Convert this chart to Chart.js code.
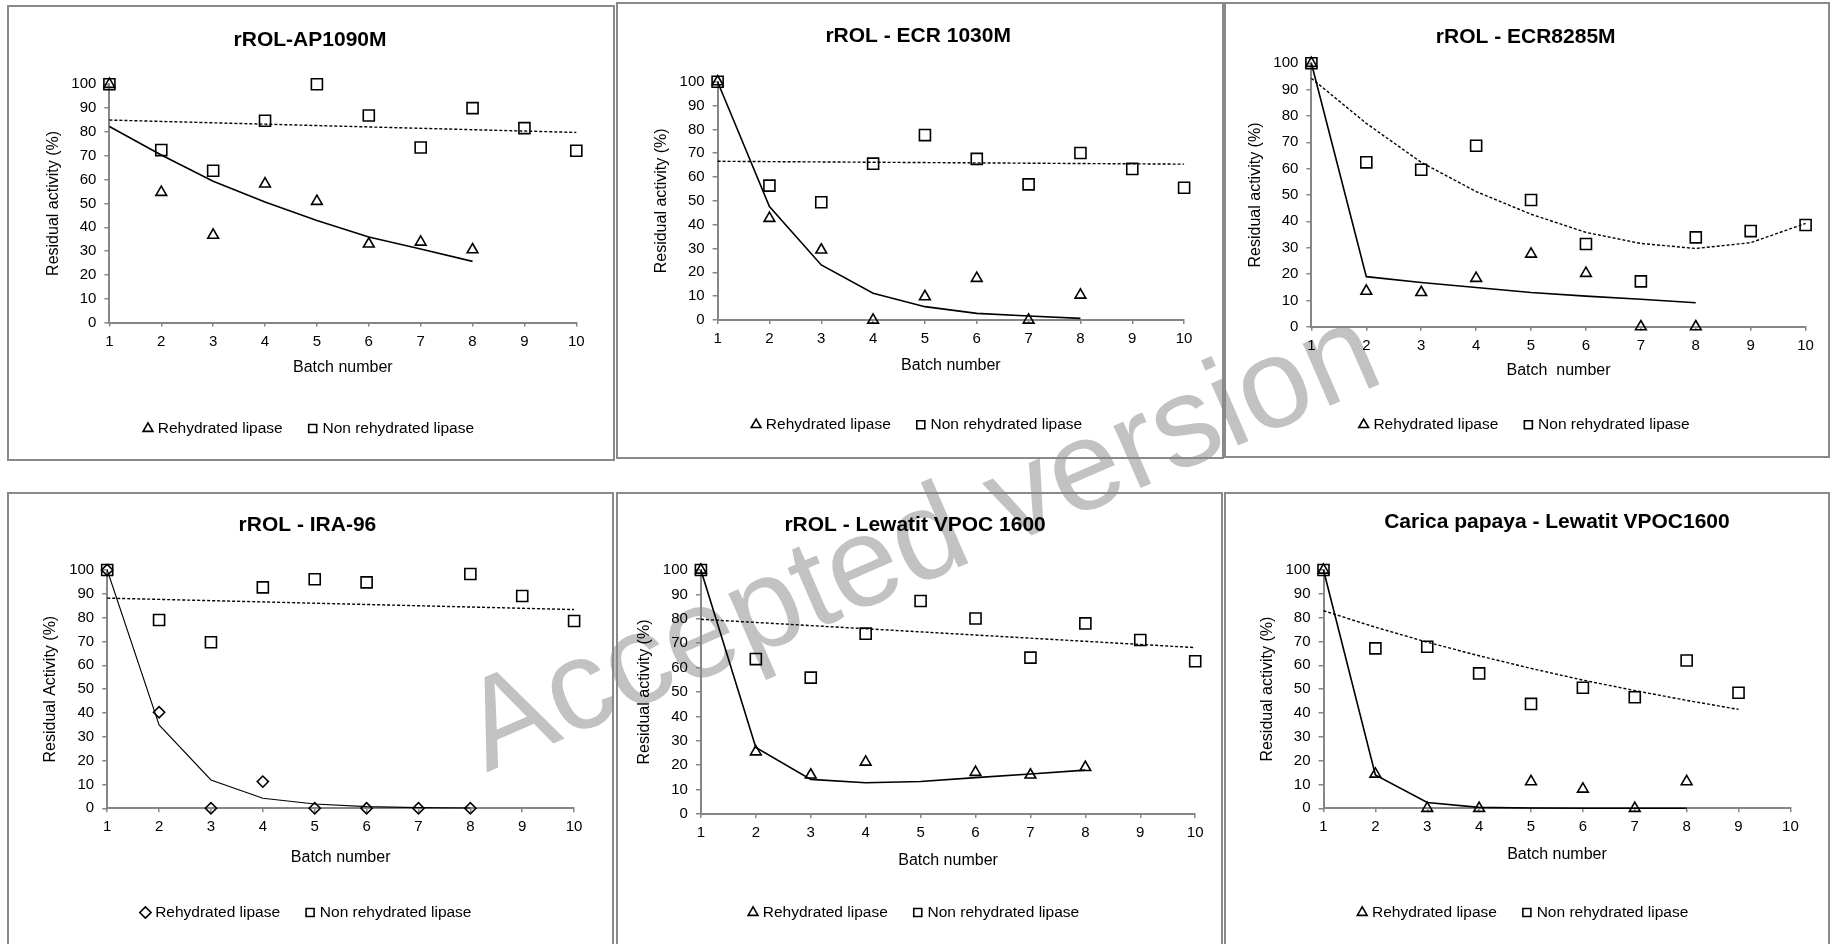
<!DOCTYPE html>
<html>
<head>
<meta charset="utf-8">
<script src="https://cdn.jsdelivr.net/npm/chart.js@4.4.1/dist/chart.umd.min.js"></script>
<style>
  html, body { margin: 0; padding: 0; background: #fff; width: 1830px; height: 944px; overflow: hidden; position: relative; }
  .frame { position: absolute; border: 2px solid #898989; box-sizing: border-box; z-index: 2; }
  canvas { position: absolute; z-index: 3; }
  #wm { position: absolute; left: 919px; top: 536px; transform: translate(-50%, -50%) rotate(-23.5deg);
        font-family: 'Liberation Sans', Arial, sans-serif; font-size: 128px; color: #c2c2c2; white-space: nowrap; z-index: 1; line-height: 1.15; }
</style>
</head>
<body>
<div id="wm">Accepted version</div>
<script>
// ---------------- Axis ticks / categories ----------------
const batchNumbers = [1, 2, 3, 4, 5, 6, 7, 8, 9, 10];
const residualTicks = [0, 10, 20, 30, 40, 50, 60, 70, 80, 90, 100];
const linearTrendBatches = [1, 10];

// ---------------- rROL-AP1090M ----------------
const ap1090mRehydrated = [100, 54.7, 36.7, 58.2, 50.9, 33.0, 33.8, 30.6];
const ap1090mNonRehydrated = [100, 72.4, 63.7, 84.7, 100, 86.9, 73.5, 90.0, 81.6, 72.1];
const ap1090mRehydratedTrend = [82.3, 70.3, 59.3, 50.6, 42.8, 35.9, 30.9, 25.7];
const ap1090mNonRehydratedTrend = [85.0, 79.8];

// ---------------- rROL - ECR 1030M ----------------
const ecr1030mRehydrated = [100, 42.7, 29.4, 0, 9.8, 17.5, 0, 10.5];
const ecr1030mNonRehydrated = [100, 56.4, 49.4, 65.6, 77.6, 67.6, 56.9, 70.1, 63.4, 55.5];
const ecr1030mRehydratedTrend = [100, 47.6, 23.1, 11.2, 5.6, 2.8, 1.7, 0.7];
const ecr1030mNonRehydratedTrend = [66.6, 65.4];

// ---------------- rROL - ECR8285M ----------------
const ecr8285mRehydrated = [100, 13.5, 13.0, 18.4, 27.6, 20.3, 0, 0];
const ecr8285mNonRehydrated = [100, 62.4, 59.6, 68.7, 48.1, 31.4, 17.2, 33.9, 36.3, 38.6];
const ecr8285mRehydratedTrend = [100, 19.0, 16.8, 14.9, 13.0, 11.6, 10.4, 9.1];
const ecr8285mNonRehydratedTrend = [94.3, 77.2, 62.4, 51.3, 42.7, 35.8, 31.6, 29.7, 31.9, 39.2];

// ---------------- rROL - IRA-96 ----------------
const ira96Rehydrated = [100, 40.3, 0, 11.2, 0, 0, 0, 0];
const ira96NonRehydrated = [100, 79.0, 69.7, 92.7, 96.1, 94.8, null, 98.3, 89.1, 78.6];
const ira96RehydratedTrend = [100, 35.0, 11.9, 4.2, 1.8, 0.7, 0.3, 0.1];
const ira96NonRehydratedTrend = [88.2, 83.4];

// ---------------- rROL - Lewatit VPOC 1600 ----------------
const vpocRehydrated = [100, 25.5, 16.0, 21.3, null, 17.1, 16.0, 19.1];
const vpocNonRehydrated = [100, 63.5, 55.9, 73.9, 87.3, 80.1, 64.1, 78.1, 71.3, 62.6];
const vpocRehydratedTrend = [100, 27.3, 14.2, 12.8, 13.3, 14.9, 16.4, 18.0];
const vpocNonRehydratedTrend = [79.8, 68.2];

// ---------------- Carica papaya - Lewatit VPOC1600 ----------------
const papayaRehydrated = [100, 14.4, 0, 0, 11.2, 8.1, 0, 11.2];
const papayaNonRehydrated = [100, 67.1, 67.8, 56.6, 43.8, 50.6, 46.6, 62.0, 48.5];
const papayaRehydratedTrend = [100, 14.0, 2.4, 0.4, 0.1, 0, 0, 0];
const papayaNonRehydratedTrend = [82.9, 76.0, 69.7, 64.0, 58.7, 53.8, 49.4, 45.3, 41.5];

// ---------------- Text ----------------
const panelTitles = ['rROL-AP1090M', 'rROL - ECR 1030M', 'rROL - ECR8285M', 'rROL - IRA-96', 'rROL - Lewatit VPOC 1600', 'Carica papaya - Lewatit VPOC1600'];
const yAxisTitles = ['Residual activity (%)', 'Residual activity (%)', 'Residual activity (%)', 'Residual Activity (%)', 'Residual activity (%)', 'Residual activity (%)'];
const xAxisTitles = ['Batch number', 'Batch number', 'Batch  number', 'Batch number', 'Batch number', 'Batch number'];
const seriesNames = ['Rehydrated lipase', 'Non rehydrated lipase'];

// ---------------- Layout (page pixels) ----------------
const layouts = [
  { frame: [7, 5, 615, 461],    canvas: [9, 7, 613, 459],       plot: [109.4, 84.3, 576.3, 322.6],   titleY: 40,    yTitleX: 53.4,   xTitleY: 368,   legendY: 428.5, titleFull: true },
  { frame: [616, 2, 1224, 459], canvas: [618, 4, 1222, 457],    plot: [717.6, 81.7, 1184.1, 320],    titleY: 36.7,  yTitleX: 661.8,  xTitleY: 366,   legendY: 424.7, titleFull: true },
  { frame: [1224, 2, 1830, 458],canvas: [1226, 4, 1828, 456],   plot: [1311.4, 63.3, 1805.6, 326.7], titleY: 37.3,  yTitleX: 1255.4, xTitleY: 370.8, legendY: 424.7, titleFull: true },
  { frame: [7, 492, 614, 950],  canvas: [9, 494, 612, 944],     plot: [107.2, 570, 574.1, 808.3],    titleY: 525.5, yTitleX: 50.4,   xTitleY: 857.5, legendY: 912.5, titleFull: true },
  { frame: [616, 492, 1223, 950], canvas: [618, 494, 1221, 944], plot: [700.9, 570, 1195.2, 814],    titleY: 525.5, yTitleX: 644.6,  xTitleY: 860.3, legendY: 912.5, titleFull: true },
  { frame: [1224, 492, 1830, 950], canvas: [1226, 494, 1828, 944], plot: [1323.5, 570, 1790.4, 808.3], titleY: 522.5, yTitleX: 1267.7, xTitleY: 854.2, legendY: 912.5, titleFull: false }
];

const panels = [
  { reh: ap1090mRehydrated, non: ap1090mNonRehydrated, rehTrend: ap1090mRehydratedTrend, nonTrend: ap1090mNonRehydratedTrend, nonTrendX: linearTrendBatches, rehStyle: 'triangle', rehTrendWidth: 1.6 },
  { reh: ecr1030mRehydrated, non: ecr1030mNonRehydrated, rehTrend: ecr1030mRehydratedTrend, nonTrend: ecr1030mNonRehydratedTrend, nonTrendX: linearTrendBatches, rehStyle: 'triangle', rehTrendWidth: 1.6 },
  { reh: ecr8285mRehydrated, non: ecr8285mNonRehydrated, rehTrend: ecr8285mRehydratedTrend, nonTrend: ecr8285mNonRehydratedTrend, nonTrendX: batchNumbers, rehStyle: 'triangle', rehTrendWidth: 1.6 },
  { reh: ira96Rehydrated, non: ira96NonRehydrated, rehTrend: ira96RehydratedTrend, nonTrend: ira96NonRehydratedTrend, nonTrendX: linearTrendBatches, rehStyle: 'rectRot', rehTrendWidth: 1.1 },
  { reh: vpocRehydrated, non: vpocNonRehydrated, rehTrend: vpocRehydratedTrend, nonTrend: vpocNonRehydratedTrend, nonTrendX: linearTrendBatches, rehStyle: 'triangle', rehTrendWidth: 1.6 },
  { reh: papayaRehydrated, non: papayaNonRehydrated, rehTrend: papayaRehydratedTrend, nonTrend: papayaNonRehydratedTrend, nonTrendX: batchNumbers, rehStyle: 'triangle', rehTrendWidth: 1.6 }
];

// ---------------- Styles ----------------
Chart.defaults.font.family = "'Liberation Sans', Arial, Helvetica, sans-serif";
Chart.defaults.color = '#000';
const AXIS_COLOR = '#868686';
const FS = 16, LH = FS * 1.2, LEG_FS = 15.5, TFS = 21, TLH = TFS * 1.2, TICK_FS = 15;
const LEGEND_PAD = 28;
const MARKER_RADIUS = { triangle: 6.2, rect: 7.8, rectRot: 5.6 };

function toPoints(xs, ys) { return ys.map((y, i) => ({ x: xs[i], y: y })); }

function makeChart(idx) {
  const p = panels[idx], L = layouts[idx];
  const [fL, fT, fR, fB] = L.frame;
  const fr = document.createElement('div');
  fr.className = 'frame';
  Object.assign(fr.style, { left: fL + 'px', top: fT + 'px', width: (fR - fL) + 'px', height: (fB - fT) + 'px' });
  document.body.appendChild(fr);

  const [cL, cT, cR, cB] = L.canvas;
  const [pL, pT, pR, pB] = L.plot;
  const cv = document.createElement('canvas');
  cv.width = cR - cL; cv.height = cB - cT;
  cv.style.left = cL + 'px'; cv.style.top = cT + 'px';
  document.body.appendChild(cv);

  const yAxisLeft = L.yTitleX - LH / 2;
  const yAxisW = pL - yAxisLeft;
  const padLeft = yAxisLeft - cL;
  const padRight = cR - pR;
  const tPadTop = L.titleY - cT - TLH / 2;
  const tPadBottom = pT - cT - tPadTop - TLH;
  const legH = LEG_FS + LEGEND_PAD + 10;
  const padBottom = cB - L.legendY - 10 - LEG_FS / 2;
  const xAxisH = cB - padBottom - legH - pB;
  const xtPadBottom = pB + xAxisH - LH / 2 - L.xTitleY;

  const markerCommon = { showLine: false, pointBorderColor: '#000', pointBackgroundColor: 'rgba(0,0,0,0)',
    borderColor: '#000', backgroundColor: 'rgba(0,0,0,0)', pointBorderWidth: 1.6, borderWidth: 1, clip: false, pointHoverRadius: 0 };

  const datasets = [
    Object.assign({ label: seriesNames[0], data: toPoints(batchNumbers, p.reh), pointStyle: p.rehStyle, pointRadius: MARKER_RADIUS[p.rehStyle] }, markerCommon),
    Object.assign({ label: seriesNames[1], data: toPoints(batchNumbers, p.non), pointStyle: 'rect', pointRadius: MARKER_RADIUS.rect }, markerCommon),
    { label: 'trend-reh', data: toPoints(batchNumbers, p.rehTrend), showLine: true, pointRadius: 0, borderColor: '#000', borderWidth: p.rehTrendWidth, tension: 0, clip: false },
    { label: 'trend-non', data: toPoints(p.nonTrendX, p.nonTrend), showLine: true, pointRadius: 0, borderColor: '#000', borderWidth: 1.4, borderDash: [3, 2], tension: 0, clip: false }
  ];

  const gridOpts = (tl) => ({ display: true, drawOnChartArea: false, drawTicks: true, tickLength: tl, color: AXIS_COLOR, lineWidth: 1.5 });
  const borderOpts = { display: true, color: AXIS_COLOR, width: 2 };

  new Chart(cv, {
    type: 'scatter',
    data: { datasets },
    options: {
      responsive: false, animation: false, devicePixelRatio: 1, events: [],
      layout: { padding: { left: padLeft, right: padRight, top: 0, bottom: padBottom } },
      plugins: {
        tooltip: { enabled: false },
        title: { display: true, text: panelTitles[idx], fullSize: L.titleFull, color: '#000',
                 font: { size: TFS, weight: 'bold' }, padding: { top: tPadTop, bottom: tPadBottom } },
        legend: { display: true, position: 'bottom', align: 'center',
                  labels: { usePointStyle: true, boxWidth: 4, boxHeight: 8, padding: LEGEND_PAD, color: '#000',
                            font: { size: LEG_FS }, filter: (item) => item.datasetIndex < 2 } }
      },
      scales: {
        x: {
          type: 'linear', min: 1, max: 10,
          afterBuildTicks: (s) => { s.ticks = batchNumbers.map(v => ({ value: v })); },
          ticks: { font: { size: TICK_FS }, color: '#000', padding: 6, maxRotation: 0, autoSkip: false },
          grid: gridOpts(4), border: borderOpts,
          title: { display: true, text: xAxisTitles[idx], color: '#000', font: { size: FS }, padding: { top: 0, bottom: xtPadBottom } },
          afterFit: (s) => { s.height = xAxisH; }
        },
        y: {
          type: 'linear', min: 0, max: 100,
          afterBuildTicks: (s) => { s.ticks = residualTicks.map(v => ({ value: v })); },
          ticks: { font: { size: TICK_FS }, color: '#000', padding: 8 },
          grid: gridOpts(5), border: borderOpts,
          title: { display: true, text: yAxisTitles[idx], color: '#000', font: { size: FS }, padding: { top: 0, bottom: 0 } },
          afterFit: (s) => { s.width = yAxisW; }
        }
      }
    }
  });
}

for (let i = 0; i < panels.length; i++) makeChart(i);
</script>
</body>
</html>
